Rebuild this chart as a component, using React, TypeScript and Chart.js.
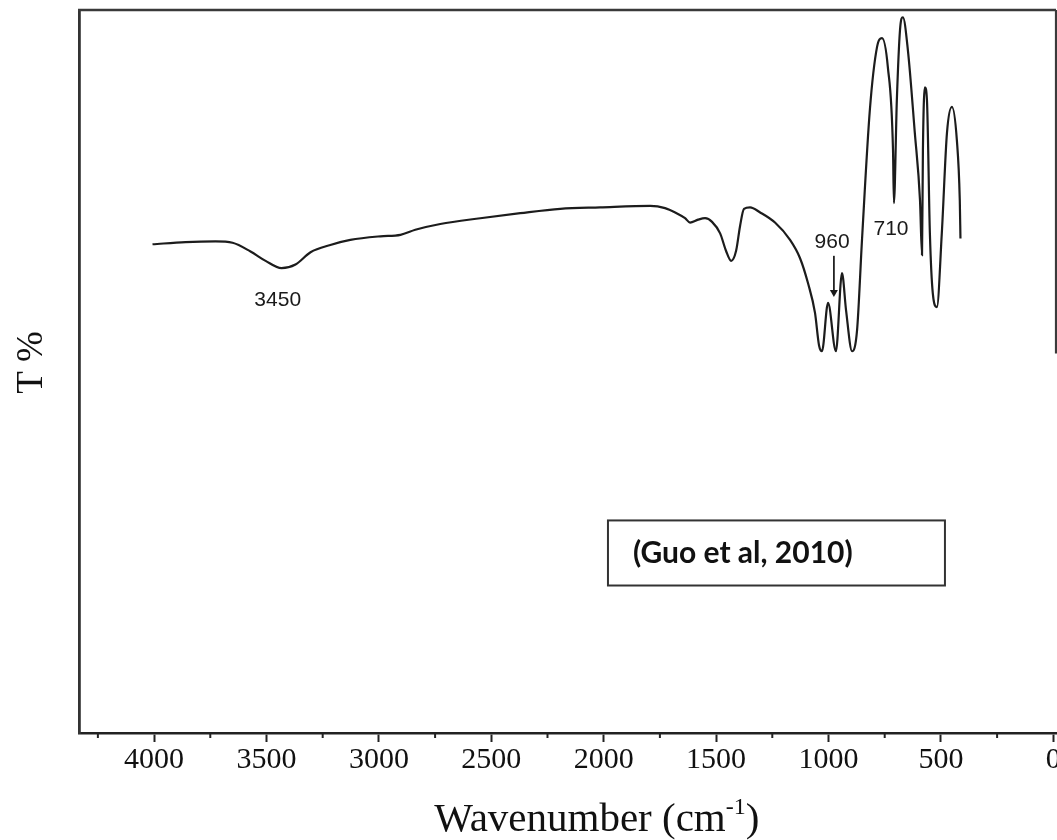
import React, { useEffect, useRef } from "react";
import { Chart, registerables } from "chart.js";

Chart.register(...registerables);

// Wavenumber (cm-1), high to low
const wavenumbers = [
  4007, 3860, 3727, 3651, 3571, 3504, 3433, 3371, 3304, 3216, 3127, 2993, 2904, 2838,
  2727, 2549, 2371, 2193, 2016, 1793, 1727, 1682, 1638, 1616, 1580, 1549, 1518, 1482,
  1456, 1433, 1411, 1393, 1376, 1349, 1304, 1238, 1171, 1127, 1091, 1060, 1042, 1029,
  1002, 967, 940, 922, 895, 873, 851, 816, 784, 762, 736, 713, 709, 696, 682, 669, 647,
  616, 593, 584, 580, 571, 562, 549, 536, 518, 496, 473, 451, 429, 416, 413,
];

// Transmittance (arbitrary %, axis unlabelled)
const transmittance = [
  67.6, 67.9, 68.0, 67.8, 66.6, 65.3, 64.3, 64.8, 66.5, 67.5, 68.2, 68.7, 68.9, 69.6,
  70.4, 71.2, 71.9, 72.5, 72.7, 72.9, 72.6, 72.0, 71.2, 70.6, 71.0, 71.2, 70.7, 69.1,
  66.7, 65.3, 66.7, 70.2, 72.5, 72.7, 72.0, 70.6, 68.2, 65.7, 62.2, 58.1, 53.6, 52.8,
  59.5, 52.8, 63.6, 58.5, 52.8, 55.7, 68.2, 86.2, 94.9, 96.1, 92.1, 80.6, 73.3, 87.5,
  97.2, 99.0, 94.5, 83.0, 73.7, 66.1, 80.6, 89.3, 87.5, 69.1, 60.8, 58.9, 69.1, 83.0,
  86.6, 82.0, 73.7, 68.4,
];

const majorTicks = [0, 500, 1000, 1500, 2000, 2500, 3000, 3500, 4000];
const minorTicks = [250, 750, 1250, 1750, 2250, 2750, 3250, 3750, 4250];

const xMin = -12;
const xMax = 4334;
const yMin = 0;
const yMax = 100;
const rightFrameEnd = 52.5;

const peakLabels = ["3450", "960", "710"];
const peakLabelX = [3450, 984, 722];
const peakLabelY = [59.9, 67.9, 69.7];
const arrowX = 976;
const arrowFrom = 66.0;
const arrowTo = 60.3;

const citation = "(Guo et al, 2010)";
const citationBoxX = [1981, 482];
const citationBoxY = [29.4, 20.4];
const citationTextX = 1870;
const citationTextY = 24.9;

const xTitle = "Wavenumber (cm";
const xTitleSup = "-1";
const xTitleEnd = ")";
const yTitle = "T %";

const SERIF = '"Liberation Serif", "Times New Roman", serif';
const SANS = '"Liberation Sans", Arial, sans-serif';

const decorPlugin = {
  id: "decor",
  afterDraw(chart: any) {
    const { ctx, chartArea: a, scales } = chart;
    const x = scales.x;
    const y = scales.y;
    ctx.save();

    // minor ticks
    ctx.strokeStyle = "#222";
    ctx.lineWidth = 2;
    minorTicks.forEach((v) => {
      const px = x.getPixelForValue(v);
      ctx.beginPath();
      ctx.moveTo(px, a.bottom);
      ctx.lineTo(px, a.bottom + 5);
      ctx.stroke();
    });

    // top & partial right frame
    ctx.strokeStyle = "#3a3a3a";
    ctx.lineWidth = 2.6;
    ctx.beginPath();
    ctx.moveTo(a.left - 1, a.top);
    ctx.lineTo(a.right, a.top);
    ctx.stroke();
    ctx.lineWidth = 2.2;
    ctx.beginPath();
    ctx.moveTo(a.right, a.top);
    ctx.lineTo(a.right, y.getPixelForValue(rightFrameEnd));
    ctx.stroke();

    // peak labels
    ctx.fillStyle = "#1a1a1a";
    ctx.font = `21px ${SANS}`;
    ctx.textAlign = "center";
    ctx.textBaseline = "middle";
    peakLabels.forEach((t, i) => {
      ctx.fillText(t, x.getPixelForValue(peakLabelX[i]), y.getPixelForValue(peakLabelY[i]));
    });

    // arrow
    const ax = x.getPixelForValue(arrowX);
    const ay1 = y.getPixelForValue(arrowFrom);
    const ay2 = y.getPixelForValue(arrowTo);
    ctx.strokeStyle = "#222";
    ctx.lineWidth = 1.8;
    ctx.beginPath();
    ctx.moveTo(ax, ay1);
    ctx.lineTo(ax, ay2 - 6);
    ctx.stroke();
    ctx.beginPath();
    ctx.moveTo(ax - 4, ay2 - 7);
    ctx.lineTo(ax + 4, ay2 - 7);
    ctx.lineTo(ax, ay2);
    ctx.closePath();
    ctx.fill();

    // citation box
    const bx1 = x.getPixelForValue(citationBoxX[0]);
    const bx2 = x.getPixelForValue(citationBoxX[1]);
    const by1 = y.getPixelForValue(citationBoxY[0]);
    const by2 = y.getPixelForValue(citationBoxY[1]);
    ctx.strokeStyle = "#333";
    ctx.lineWidth = 2;
    ctx.strokeRect(bx1, by1, bx2 - bx1, by2 - by1);
    ctx.fillStyle = "#111";
    ctx.font = `bold 30px Lato, "Noto Sans", sans-serif`;
    ctx.textAlign = "left";
    ctx.textBaseline = "middle";
    ctx.fillText(citation, x.getPixelForValue(citationTextX), y.getPixelForValue(citationTextY));

    // x title with superscript
    ctx.fillStyle = "#111";
    ctx.textBaseline = "alphabetic";
    ctx.textAlign = "left";
    const mainFont = `41px ${SERIF}`;
    const supFont = `24px ${SERIF}`;
    ctx.font = mainFont;
    const w1 = ctx.measureText(xTitle).width;
    const w3 = ctx.measureText(xTitleEnd).width;
    ctx.font = supFont;
    const w2 = ctx.measureText(xTitleSup).width;
    const total = w1 + w2 + w3;
    const cx = a.left + (a.right - a.left) * 0.53;
    const base = chart.height - 9;
    let sx = cx - total / 2;
    ctx.font = mainFont;
    ctx.fillText(xTitle, sx, base);
    sx += w1;
    ctx.font = supFont;
    ctx.fillText(xTitleSup, sx, base - 17);
    sx += w2;
    ctx.font = mainFont;
    ctx.fillText(xTitleEnd, sx, base);

    // y title
    ctx.save();
    ctx.translate(24, (a.top + a.bottom) / 2 - 9);
    ctx.rotate(-Math.PI / 2);
    ctx.font = `37px ${SERIF}`;
    ctx.textAlign = "center";
    ctx.textBaseline = "middle";
    ctx.fillText(yTitle, 0, 0);
    ctx.restore();

    ctx.restore();
  },
};

export default function App() {
  const canvasRef = useRef<HTMLCanvasElement | null>(null);

  useEffect(() => {
    if (!canvasRef.current) return;
    const points = wavenumbers.map((w, i) => ({ x: w, y: transmittance[i] }));
    const chart = new Chart(canvasRef.current, {
      type: "line",
      data: {
        datasets: [
          {
            data: points,
            borderColor: "#1c1c1c",
            borderWidth: 2.2,
            pointRadius: 0,
            fill: false,
            cubicInterpolationMode: "monotone",
          },
        ],
      },
      options: {
        animation: false,
        responsive: false,
        events: [],
        layout: { padding: { top: 2, right: 52, left: 0, bottom: 0 } },
        plugins: {
          legend: { display: false },
          tooltip: { enabled: false },
          title: { display: false },
        },
        scales: {
          x: {
            type: "linear",
            reverse: true,
            min: xMin,
            max: xMax,
            afterBuildTicks: (scale: any) => {
              scale.ticks = majorTicks.map((v) => ({ value: v }));
            },
            afterFit: (scale: any) => {
              scale.height = 107;
            },
            grid: {
              display: true,
              drawOnChartArea: false,
              drawTicks: true,
              tickLength: 9,
              tickColor: "#222",
              tickWidth: 2,
            },
            border: { display: true, color: "#222", width: 2.6 },
            ticks: {
              color: "#111",
              padding: 0,
              maxRotation: 0,
              autoSkip: false,
              font: { family: SERIF, size: 30 },
              callback: (v: any) => String(v),
            },
          },
          y: {
            type: "linear",
            min: yMin,
            max: yMax,
            afterFit: (scale: any) => {
              scale.width = 71;
            },
            grid: { display: false },
            border: { display: true, color: "#333", width: 2.8 },
            ticks: { display: false },
          },
        },
      },
      plugins: [decorPlugin],
    });
    return () => chart.destroy();
  }, []);

  return (
    <div
      style={{
        position: "absolute",
        left: 8,
        top: 8,
        width: 1049,
        height: 832,
        overflow: "hidden",
        background: "#fff",
      }}
    >
      <canvas ref={canvasRef} width={1100} height={832} style={{ display: "block" }} />
    </div>
  );
}
